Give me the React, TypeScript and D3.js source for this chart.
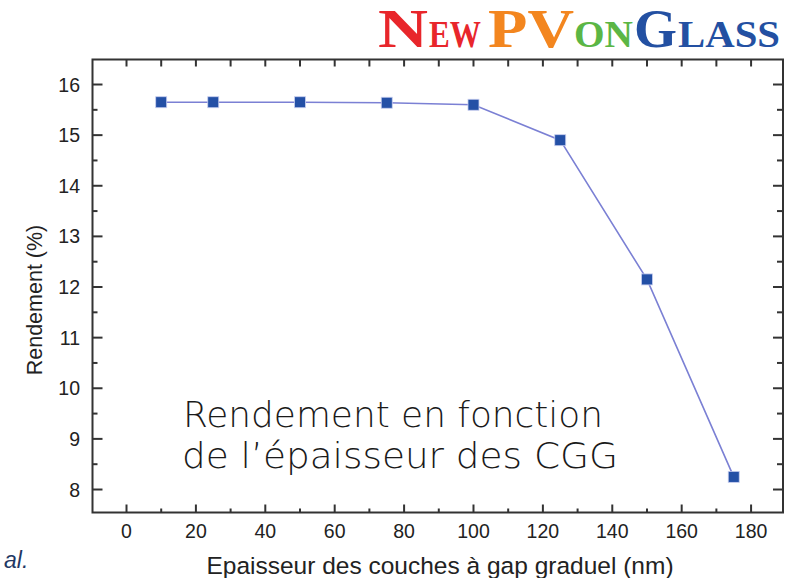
import React from "react";
import * as d3 from "d3";

const thickness = [10, 25, 50, 75, 100, 125, 150, 175];
const efficiency = [15.65, 15.65, 15.65, 15.64, 15.6, 14.9, 12.15, 8.25];
const xTicks = [0, 20, 40, 60, 80, 100, 120, 140, 160, 180];
const yTicks = [8, 9, 10, 11, 12, 13, 14, 15, 16];
const xLabel = "Epaisseur des couches à gap graduel (nm)";
const yLabel = "Rendement (%)";
const overlayLines = ["Rendement en fonction", "de l\u2019épaisseur des CGG"];

const W = 785;
const H = 578;
const L = 92.5, R = 783, T = 59.5, B = 512.5;

export default function App() {
  const x = d3.scaleLinear().domain([-9.8, 189.2]).range([L, R]);
  const y = d3.scaleLinear().domain([7.546, 16.494]).range([B, T]);
  const line = d3
    .line<number>()
    .x((_, i) => x(thickness[i]))
    .y((d) => y(d));

  const xMinor = d3.range(0, 190, 10).filter((v) => v % 20 !== 0);
  const xTop = d3.range(0, 190, 10);
  const yMinor = d3.range(8, 16.5, 0.5).filter((v) => v % 1 !== 0);
  const axisColor = "#333";
  const tickFont = "Liberation Sans, Arial, sans-serif";

  return (
    <svg
      width={W}
      height={H}
      style={{ position: "absolute", left: 0, top: 0, background: "#fff" }}
    >
      {/* Logo */}
      <g fontFamily="Liberation Serif, Times New Roman, serif" fontWeight="bold">
        <text x={378} y={47} fontSize={54} fill="#e8262b" textLength={50} lengthAdjust="spacingAndGlyphs">N</text>
        <text x={429} y={47} fontSize={37} fill="#e8262b" textLength={52} lengthAdjust="spacingAndGlyphs">EW</text>
        <text x={488} y={47} fontSize={54} fill="#f3861f" textLength={86} lengthAdjust="spacingAndGlyphs">PV</text>
        <text x={574} y={47} fontSize={37} fill="#5bb645" textLength={59} lengthAdjust="spacingAndGlyphs">ON</text>
        <text x={634} y={47} fontSize={54} fill="#2350a2" textLength={43} lengthAdjust="spacingAndGlyphs">G</text>
        <text x={678} y={47} fontSize={37} fill="#2350a2" textLength={102} lengthAdjust="spacingAndGlyphs">LASS</text>
      </g>

      {/* Frame */}
      <rect x={L} y={T} width={R - L} height={B - T} fill="none" stroke={axisColor} strokeWidth={2} />

      {/* Bottom ticks */}
      {xTicks.map((v) => (
        <g key={"xb" + v}>
          <line x1={x(v)} x2={x(v)} y1={B} y2={B - 8} stroke={axisColor} strokeWidth={2} />
          <text x={x(v)} y={538} fontSize={19.5} fontFamily={tickFont} textAnchor="middle" fill="#222">
            {v}
          </text>
        </g>
      ))}
      {xMinor.map((v) => (
        <line key={"xm" + v} x1={x(v)} x2={x(v)} y1={B} y2={B - 4} stroke={axisColor} strokeWidth={2} />
      ))}
      {/* Top ticks */}
      {xTop.map((v) => (
        <line key={"xt" + v} x1={x(v)} x2={x(v)} y1={T} y2={T + 7} stroke={axisColor} strokeWidth={2} />
      ))}

      {/* Left / right ticks */}
      {yTicks.map((v) => (
        <g key={"y" + v}>
          <line x1={L} x2={L + 10} y1={y(v)} y2={y(v)} stroke={axisColor} strokeWidth={2} />
          <line x1={R} x2={R - 10} y1={y(v)} y2={y(v)} stroke={axisColor} strokeWidth={2} />
          <text x={80} y={y(v) + 7} fontSize={19.5} fontFamily={tickFont} textAnchor="end" fill="#222">
            {v}
          </text>
        </g>
      ))}
      {yMinor.map((v) => (
        <g key={"ym" + v}>
          <line x1={L} x2={L + 5} y1={y(v)} y2={y(v)} stroke={axisColor} strokeWidth={2} />
          <line x1={R} x2={R - 6} y1={y(v)} y2={y(v)} stroke={axisColor} strokeWidth={2} />
        </g>
      ))}

      {/* Axis labels */}
      <text x={440} y={574} fontSize={24.5} fontFamily={tickFont} fill="#222" textAnchor="middle">
        {xLabel}
      </text>
      <text
        transform={`translate(42, 300) rotate(-90)`}
        fontSize={21.5}
        fontFamily={tickFont}
        fill="#222"
        textAnchor="middle"
      >
        {yLabel}
      </text>

      {/* Data */}
      <path d={line(efficiency) || ""} fill="none" stroke="#7b80d4" strokeWidth={1.6} />
      {efficiency.map((v, i) => (
        <rect
          key={"p" + i}
          x={x(thickness[i]) - 5.5}
          y={y(v) - 5.5}
          width={11}
          height={11}
          fill="#2450a6"
          stroke="#c9cff0"
          strokeWidth={0.8}
        />
      ))}

      {/* Overlay text */}
      <g fontFamily="DejaVu Sans, sans-serif" fontWeight={300} fill="#1a1a1a" fontSize={35}>
        <text x={183} y={427} textLength={420} lengthAdjust="spacingAndGlyphs">{overlayLines[0]}</text>
        <text x={182} y={468} textLength={436} lengthAdjust="spacingAndGlyphs">{overlayLines[1]}</text>
      </g>

      {/* al. */}
      <text x={4} y={568} fontSize={23} fontStyle="italic" fontFamily={tickFont} fill="#1f3864">
        al.
      </text>
    </svg>
  );
}
